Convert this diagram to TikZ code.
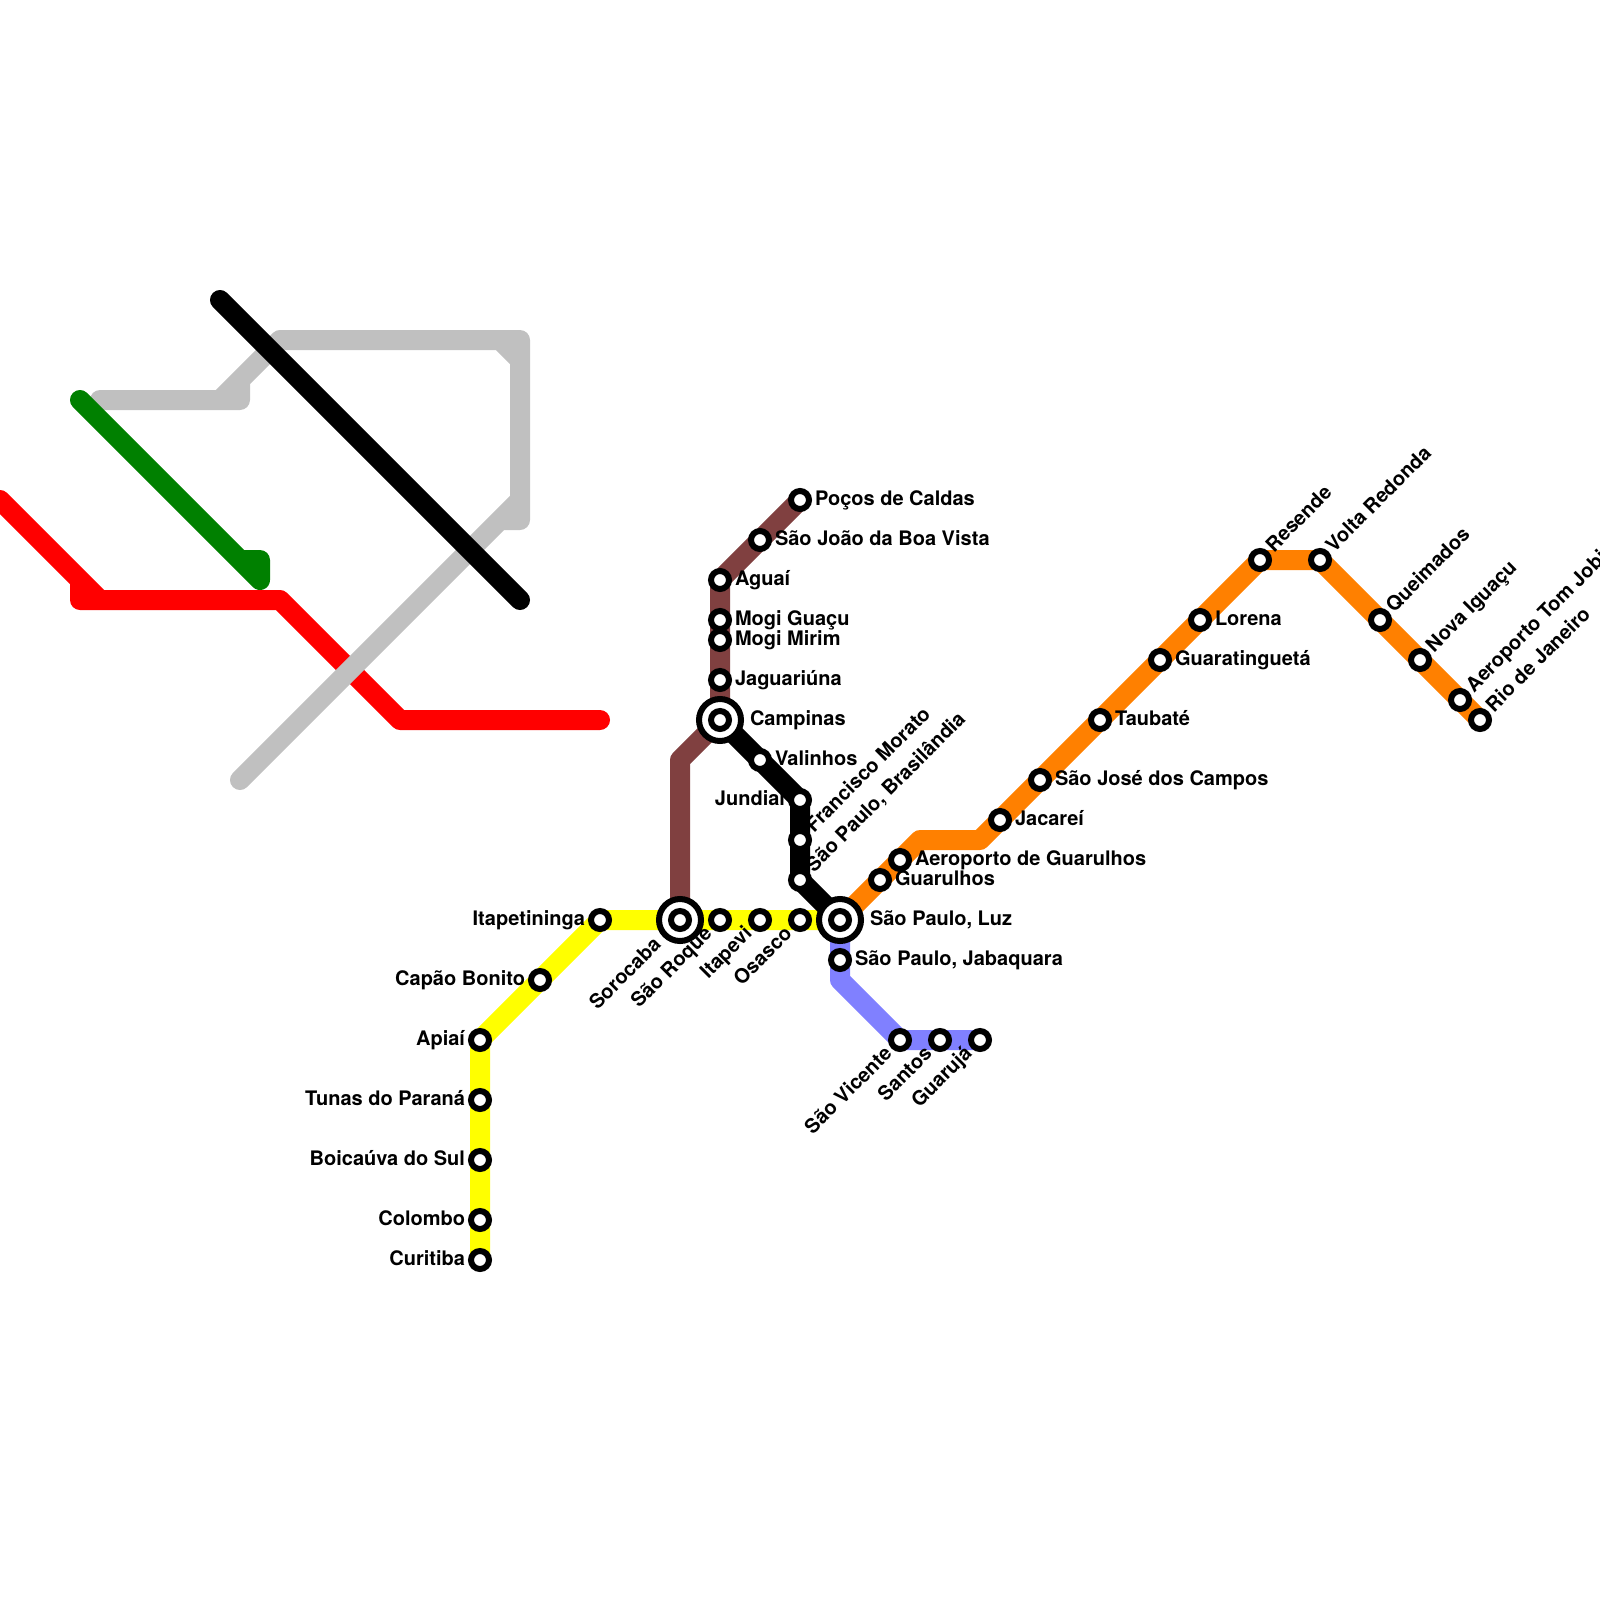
\documentclass[tikz,border=0pt]{standalone}
\usepackage{fontspec}
\usepackage{tikz}
\usepackage{xcolor}
\setmainfont{TeX Gyre Heros}
\usetikzlibrary{backgrounds}
\definecolor{mtbrown}{HTML}{804040}
\definecolor{mtblue}{HTML}{8080FF}
\definecolor{mtorange}{HTML}{FF8000}
\definecolor{mtyellow}{HTML}{FFFF00}
\definecolor{mtred}{HTML}{FF0000}
\definecolor{mtgreen}{HTML}{008000}
\definecolor{mtgray}{HTML}{C0C0C0}
\tikzset{
  metro/.style={line width=20pt, line cap=round, line join=round},
  stn/.style={circle, draw=black, fill=white, line width=6pt, minimum size=18pt, inner sep=0pt, outer sep=0pt},
  hub/.style={circle, draw=black, fill=white, line width=6pt, minimum size=42pt, inner sep=0pt, outer sep=0pt},
  lab/.style={font=\bfseries\fontsize{20}{22}\selectfont, inner sep=0pt, outer sep=0pt, text=black},
  labr/.style={lab, anchor=base west},
  labl/.style={lab, anchor=base east},
  labup/.style={lab, anchor=base west, rotate=45},
  labdn/.style={lab, anchor=base east, rotate=45}
}

\begin{document}
\begin{tikzpicture}[x=1pt,y=-1pt]
  \useasboundingbox (0,0) rectangle (1600,1600);
  \foreach \nm/\x/\y/\txt in {aguai/720/580/Aguaí,mogiguacu/720/620/Mogi Guaçu,mogimirim/720/640/Mogi Mirim,jaguariuna/720/680/Jaguariúna,joao/760/540/São João da Boa Vista,pocos/800/500/Poços de Caldas,valinhos/760/760/Valinhos,guarulhos/880/880/Guarulhos,aerogru/900/860/Aeroporto de Guarulhos,jabaquara/840/960/{São Paulo, Jabaquara},jacarei/1000/820/Jacareí,sjc/1040/780/São José dos Campos,taubate/1100/720/Taubaté,guara/1160/660/Guaratinguetá,lorena/1200/620/Lorena}{
    \node[stn] (\nm) at (\x,\y) {};
    \node[labr] (\nm-lab) at (\x+15,\y+5) {\txt};
  }
  \foreach \nm/\x/\y/\txt in {itapetininga/600/920/Itapetininga,capao/540/980/Capão Bonito,apiai/480/1040/Apiaí,tunas/480/1100/Tunas do Paraná,boicauva/480/1160/Boicaúva do Sul,colombo/480/1220/Colombo,curitiba/480/1260/Curitiba,jundiai/800/800/Jundiaí}{
    \node[stn] (\nm) at (\x,\y) {};
    \node[labl] (\nm-lab) at (\x-15,\y+5) {\txt};
  }
  \foreach \nm/\x/\y/\txt in {morato/800/840/Francisco Morato,brasilandia/800/880/{São Paulo, Brasilândia},resende/1260/560/Resende,volta/1320/560/Volta Redonda,queimados/1380/620/Queimados,iguacu/1420/660/Nova Iguaçu,tomjobim/1460/700/Aeroporto Tom Jobim,rio/1480/720/Rio de Janeiro}{
    \node[stn] (\nm) at (\x,\y) {};
    \node[labup] (\nm-lab) at (\x+14,\y-7) {\txt};
  }
  \foreach \nm/\x/\y/\txt in {roque/720/920/São Roque,itapevi/760/920/Itapevi,osasco/800/920/Osasco,vicente/900/1040/São Vicente,santos/940/1040/Santos,guaruja/980/1040/Guarujá}{
    \node[stn] (\nm) at (\x,\y) {};
    \node[labdn] (\nm-lab) at (\x-7,\y+15) {\txt};
  }
  \foreach \nm/\x/\y/\txt/\dx/\dy/\st in {campinas/720/720/Campinas/30/5/labr,luz/840/920/{São Paulo, Luz}/30/5/labr,sorocaba/680/920/Sorocaba/-18/26/labdn}{
    \node[hub] (\nm) at (\x,\y) {};
    \node[stn] (\nm-in) at (\x,\y) {};
    \node[\st] (\nm-lab) at (\x+\dx,\y+\dy) {\txt};
  }
  \foreach \nm/\x/\y in {rd1/0/500,rd2/100/600,rd3/80/600,rd4/80/580,rd5/280/600,rd6/400/720,rd7/600/720,gy1/100/400,gy2/240/400,gy3/240/380,gy4/220/400,gy5/280/340,gy6/500/340,gy7/520/340,gy8/520/360,gy9/520/500,gy10/520/520,gy11/500/520,gy12/240/780,gn1/80/400,gn2/260/580,gn3/260/560,gn4/240/560,bk1/220/300,bk2/520/600,br1/680/760,bl1/840/980,or1/920/840,or2/980/840}{
    \coordinate (\nm) at (\x,\y);
  }
  \begin{pgfonlayer}{background}
    \draw[metro, mtred] (rd1) -- (rd2) -- (rd3) -- (rd4) (rd3) -- (rd5) -- (rd6) -- (rd7);
    \draw[metro, mtgray] (gy1) -- (gy2) -- (gy3) -- (gy5) -- (gy7) -- (gy10) -- (gy11) -- (gy12) (gy4) -- (gy5) (gy6) -- (gy8) (gy12) -- (gy9);
    \draw[metro, mtgreen] (gn1) -- (gn2) -- (gn3) -- (gn4);
    \draw[metro, black] (bk1) -- (bk2);
    \draw[metro, mtyellow] (curitiba.center) -- (apiai.center) -- (itapetininga.center) -- (luz.center);
    \draw[metro, mtblue] (luz.center) -- (bl1) -- (vicente.center) -- (guaruja.center);
    \draw[metro, mtorange] (luz.center) -- (or1) -- (or2) -- (resende.center) -- (volta.center) -- (rio.center);
    \draw[metro, mtbrown] (sorocaba.center) -- (br1) -- (campinas.center) -- (aguai.center) -- (pocos.center);
    \draw[metro, black] (campinas.center) -- (jundiai.center) -- (brasilandia.center) -- (luz.center);
  \end{pgfonlayer}
\end{tikzpicture}
\end{document}
